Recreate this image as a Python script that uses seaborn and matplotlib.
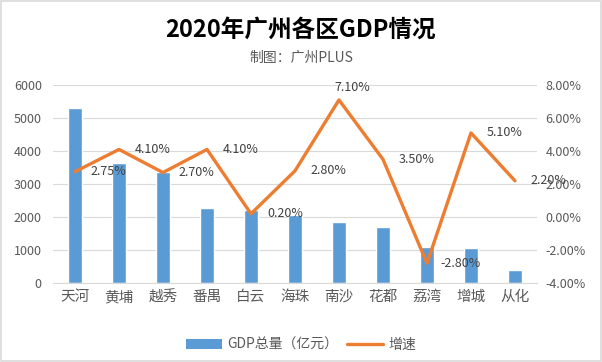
import numpy as np
import pandas as pd
import matplotlib
matplotlib.use("Agg")
import matplotlib.pyplot as plt
import seaborn as sns
from matplotlib.patches import Rectangle, Patch
from matplotlib.lines import Line2D
from matplotlib.ticker import FuncFormatter, MultipleLocator

districts = ["天河", "黄埔", "越秀", "番禺", "白云", "海珠", "南沙", "花都", "荔湾", "增城", "从化"]
gdp = [5312, 3650, 3353, 2276, 2211, 2070, 1846, 1697, 1090, 1060, 398]
growth = [2.75, 4.10, 2.70, 4.10, 0.20, 2.80, 7.10, 3.50, -2.80, 5.10, 2.20]
growth_labels = ["2.75%", "4.10%", "2.70%", "4.10%", "0.20%", "2.80%", "7.10%", "3.50%", "-2.80%", "5.10%", "2.20%"]

title = "2020年广州各区GDP情况"
subtitle = "制图：广州PLUS"
bar_name = "GDP总量（亿元）"
line_name = "增速"

sns.set_style("white")
plt.rcParams["font.family"] = ["Noto Sans CJK SC", "DejaVu Sans"]

BAR_C = "#5B9BD5"
LINE_C = "#ED7D31"
TXT_C = "#595959"

df = pd.DataFrame({"区": districts, "GDP": gdp, "增速": growth})

fig = plt.figure(figsize=(6.02, 3.62), dpi=100)
ax = fig.add_axes([0.088, 0.218, 0.804, 0.547])

sns.barplot(data=df, x="区", y="GDP", color=BAR_C, width=0.3, ax=ax, saturation=1)
ax.set_ylim(0, 6000)
ax.yaxis.set_major_locator(MultipleLocator(1000))
ax.set_xlim(-0.5, len(districts) - 0.5)
ax.set_xlabel("")
ax.set_ylabel("")
ax.grid(axis="y", color="#D9D9D9", linewidth=0.8)
ax.set_axisbelow(True)
for s in ["top", "left", "right"]:
    ax.spines[s].set_visible(False)
ax.spines["bottom"].set_color("#D9D9D9")
ax.tick_params(axis="both", length=0, colors=TXT_C)
ax.tick_params(axis="y", labelsize=9, pad=8)
ax.tick_params(axis="x", labelsize=10.5, pad=5)

ax2 = ax.twinx()
sns.lineplot(x=np.arange(len(districts)), y=growth, color=LINE_C, linewidth=2.4, ax=ax2)
ax2.set_ylim(-4, 8)
ax2.yaxis.set_major_locator(MultipleLocator(2))
ax2.yaxis.set_major_formatter(FuncFormatter(lambda v, p: f"{v:.2f}%"))
ax2.tick_params(axis="y", length=0, colors=TXT_C, labelsize=9, pad=6)
for s in ["top", "left", "right", "bottom"]:
    ax2.spines[s].set_visible(False)
ax2.set_xlim(-0.5, len(districts) - 0.5)

for i, (v, lab) in enumerate(zip(growth, growth_labels)):
    if lab == "7.10%":
        ax2.text(i + 0.3, v + 0.75, lab, ha="center", va="center", fontsize=9, color="#404040")
    else:
        ax2.text(i + 0.77, v, lab, ha="center", va="center", fontsize=9, color="#404040")

fig.text(0.5, 0.918, title, ha="center", va="center", fontsize=17, fontweight="bold", color="black")
fig.text(0.5, 0.84, subtitle, ha="center", va="center", fontsize=10, color=TXT_C)

handles = [Patch(facecolor=BAR_C, edgecolor="none"),
           Line2D([0], [0], color=LINE_C, linewidth=2.4)]
fig.legend(handles, [bar_name, line_name], loc="center", bbox_to_anchor=(0.5, 0.047),
           ncol=2, frameon=False, fontsize=10, labelcolor=TXT_C,
           handlelength=2.6, handletextpad=0.4, columnspacing=0.6)

fig.patches.append(Rectangle((0.002, 0.003), 0.996, 0.994, transform=fig.transFigure,
                             fill=False, edgecolor="#D9D9D9", linewidth=1.2))

fig.savefig("out.png", dpi=100)
